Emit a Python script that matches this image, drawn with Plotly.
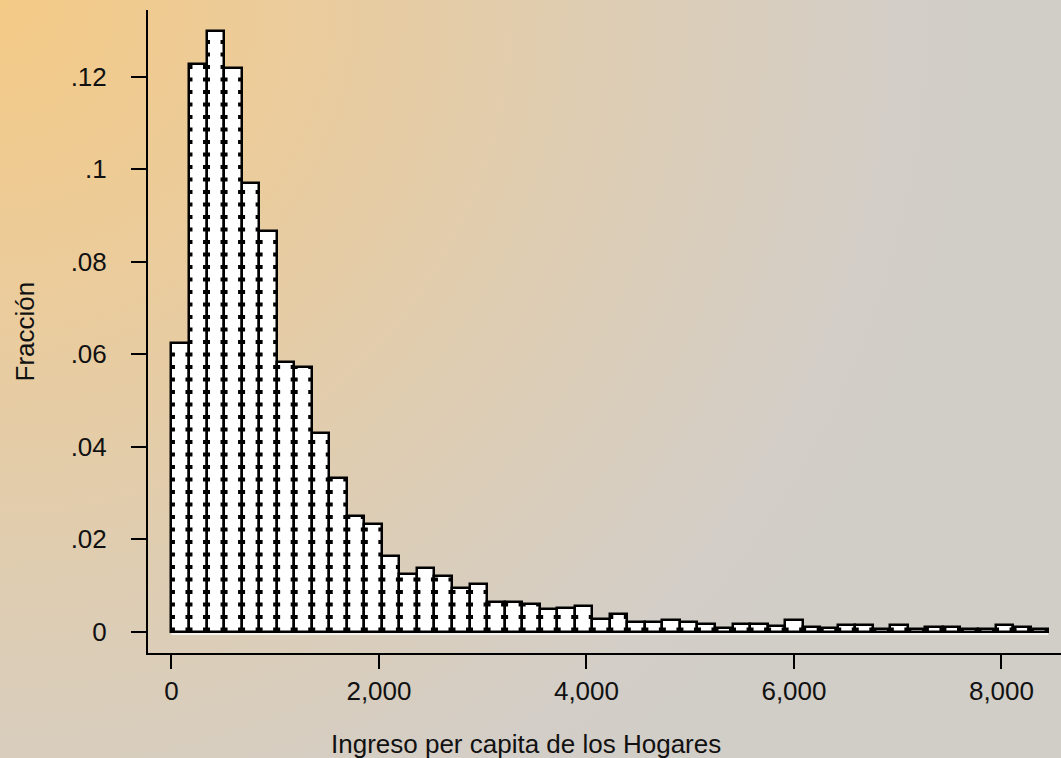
import base64
import plotly.graph_objects as go

# ---------------- data ----------------
bin_start = 0
bin_width = 169
fractions = [0.0625, 0.1227, 0.1300, 0.1218, 0.0971, 0.0867, 0.0582, 0.0573, 0.0430, 0.0331,
             0.0249, 0.0232, 0.0164, 0.0124, 0.0137, 0.0119, 0.0094, 0.0103, 0.0063, 0.0064,
             0.0060, 0.0048, 0.0050, 0.0055, 0.0028, 0.0038, 0.0021, 0.0021, 0.0025, 0.0021,
             0.0017, 0.0008, 0.0017, 0.0017, 0.0011, 0.0025, 0.0009, 0.0008, 0.0014, 0.0014,
             0.0006, 0.0014, 0.0006, 0.0009, 0.0009, 0.0006, 0.0006, 0.0014, 0.0009, 0.0006]
x_tickvals = [0, 2000, 4000, 6000, 8000]
x_ticktext = ["0", "2,000", "4,000", "6,000", "8,000"]
y_tickvals = [0, 0.02, 0.04, 0.06, 0.08, 0.10, 0.12]
y_ticktext = ["0", ".02", ".04", ".06", ".08", ".1", ".12"]
x_title = "Ingreso per capita de los Hogares"
y_title = "Fracción"

# ---------------- layout geometry ----------------
W, H = 1061, 758
ML, MR, MT, MB = 148, 0, 10, 105
x_range = [-226, 8574]
y_range = [-0.00465, 0.13444]
plot_w = W - ML - MR
plot_h = H - MT - MB
px_per_x = plot_w / (x_range[1] - x_range[0])
px_per_y = plot_h / (y_range[1] - y_range[0])

n = len(fractions)
edges = [bin_start + i * bin_width for i in range(n + 1)]
centers = [bin_start + (i + 0.5) * bin_width for i in range(n)]

FONT = "Liberation Sans, Arial, sans-serif"
TXT = "#111111"

fig = go.Figure()
fig.add_trace(go.Bar(
    x=centers, y=fractions, width=[bin_width] * n,
    marker=dict(color="white", line=dict(color="black", width=2.5)),
    hoverinfo="skip", showlegend=False,
))

# dotted texture along the inner edges of each bar
off = 1.5 / px_per_x
dx, dy = [], []
for i, h in enumerate(fractions):
    for xe in (edges[i] + off, edges[i + 1] - off):
        dx += [xe, xe, None]
        dy += [0, h, None]
fig.add_trace(go.Scatter(
    x=dx, y=dy, mode="lines",
    line=dict(color="black", width=4, dash="4px,8.5px"),
    hoverinfo="skip", showlegend=False,
))

# background gradient (top-left orange to grey)
svg = f'''<svg xmlns="http://www.w3.org/2000/svg" width="{W}" height="{H}" viewBox="0 0 {W} {H}" preserveAspectRatio="none">
<defs><radialGradient id="g" gradientUnits="userSpaceOnUse" cx="0" cy="0" r="1000">
<stop offset="0" stop-color="#f4ca86"/>
<stop offset="0.3" stop-color="#ebcc9c"/>
<stop offset="0.6" stop-color="#decdb3"/>
<stop offset="0.9" stop-color="#d3cec7"/>
<stop offset="1" stop-color="#d1cdc7"/>
</radialGradient></defs>
<rect x="0" y="0" width="{W}" height="{H}" fill="url(#g)"/></svg>'''
src = "data:image/svg+xml;base64," + base64.b64encode(svg.encode()).decode()

fig.update_layout(
    width=W, height=H,
    margin=dict(l=ML, r=MR, t=MT, b=MB, pad=0),
    paper_bgcolor="#dccdb5", plot_bgcolor="rgba(0,0,0,0)",
    bargap=0,
    font=dict(family=FONT, size=26, color=TXT),
    images=[dict(source=src, xref="paper", yref="paper",
                 x=-ML / plot_w, y=1 + MT / plot_h,
                 sizex=W / plot_w, sizey=H / plot_h,
                 xanchor="left", yanchor="top", sizing="stretch", layer="below")],
    xaxis=dict(range=x_range, showgrid=False, zeroline=False,
               showline=True, linecolor="black", linewidth=2,
               ticks="outside", ticklen=14, tickwidth=2, tickcolor="black",
               tickvals=x_tickvals, ticktext=x_ticktext,
               tickfont=dict(family=FONT, size=26, color=TXT),
               ticklabelstandoff=0),
    yaxis=dict(range=y_range, showgrid=False, zeroline=False,
               showline=True, linecolor="black", linewidth=2,
               ticks="outside", ticklen=15, tickwidth=2, tickcolor="black",
               tickvals=y_tickvals, ticktext=y_ticktext,
               tickfont=dict(family=FONT, size=26, color=TXT),
               ticklabelstandoff=19),
    annotations=[
        dict(text=x_title, xref="paper", yref="paper",
             x=(526 - ML) / plot_w, y=-(743.5 - (MT + plot_h)) / plot_h,
             xanchor="center", yanchor="middle", showarrow=False,
             font=dict(family=FONT, size=26, color=TXT)),
        dict(text=y_title, xref="paper", yref="paper", textangle=-90,
             x=-(ML - 24) / plot_w, y=0.5,
             xanchor="center", yanchor="middle", showarrow=False,
             font=dict(family=FONT, size=26, color=TXT)),
    ],
    shapes=[dict(type="line", xref="x", yref="y",
                 x0=edges[0], x1=edges[-1],
                 y0=-2.5 / px_per_y, y1=-2.5 / px_per_y,
                 line=dict(color="white", width=1.5))],
)

fig.write_html("out.html", config={"displayModeBar": False},
               post_script="document.body.style.margin='0';")
